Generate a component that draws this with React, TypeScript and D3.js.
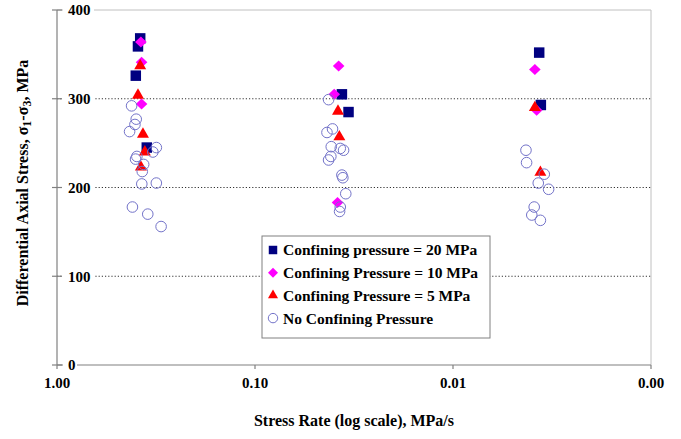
import React from "react";
import * as d3 from "d3";

// ---- data ----
const seriesNames = [
  "Confining pressure = 20 MPa",
  "Confining Pressure = 10 MPa",
  "Confining Pressure = 5 MPa",
  "No Confining Pressure",
];

// [stress rate MPa/s, differential stress MPa]
const cp20: [number, number][] = [
  [0.38, 368], [0.39, 359], [0.4, 326], [0.352, 245],
  [0.0364, 305], [0.0337, 285],
  [0.00367, 352], [0.0036, 293],
];
const cp10: [number, number][] = [
  [0.377, 364], [0.374, 341], [0.374, 294],
  [0.0378, 337], [0.0398, 305], [0.0383, 183],
  [0.00386, 333], [0.00378, 287],
];
const cp5: [number, number][] = [
  [0.38, 337], [0.39, 304], [0.368, 260], [0.36, 240], [0.377, 223],
  [0.0381, 286], [0.0375, 257],
  [0.00386, 290], [0.00362, 217],
];
const cp0: [number, number][] = [
  [0.42, 292], [0.398, 277], [0.404, 271], [0.43, 263], [0.315, 245], [0.328, 240],
  [0.395, 235], [0.401, 232], [0.365, 226], [0.371, 218], [0.373, 204], [0.315, 205],
  [0.416, 178], [0.348, 170], [0.298, 156],
  [0.0425, 299], [0.0406, 266], [0.0433, 262], [0.0412, 246], [0.0357, 242], [0.0371, 244],
  [0.0414, 235], [0.0425, 231], [0.0364, 214], [0.036, 211], [0.0348, 193], [0.0371, 178],
  [0.0374, 173],
  [0.00428, 242], [0.00425, 228], [0.00346, 215], [0.00371, 205], [0.00329, 198],
  [0.00389, 178], [0.004, 169], [0.00362, 163],
];

const yTicks = [0, 100, 200, 300, 400];
const xTicks = [1, 0.1, 0.01, 0.001];
const xTickLabels = ["1.00", "0.10", "0.01", "0.00"];

const W = 681;
const H = 439;
const left = 57;
const right = 651;
const top = 10;
const bottom = 365;

const x = d3.scaleLog().domain([1, 0.001]).range([left, right]);
const y = d3.scaleLinear().domain([0, 400]).range([bottom, top]);

const FONT = "'Liberation Serif', 'Times New Roman', serif";

const squarePath = d3.symbol().type(d3.symbolSquare).size(110)() as string;
const trianglePath = d3.symbol().type(d3.symbolTriangle).size(62)() as string;
const diamondPath = "M0,-5.5L5.8,0L0,5.5L-5.8,0Z";
const squareSmall = d3.symbol().type(d3.symbolSquare).size(72)() as string;
const triangleSmall = d3.symbol().type(d3.symbolTriangle).size(44)() as string;
const diamondSmall = "M0,-5L5,0L0,5L-5,0Z";

function Marker({ kind, small }: { kind: number; small?: boolean }) {
  if (kind === 0) return <path d={small ? squareSmall : squarePath} fill="#000080" />;
  if (kind === 1) return <path d={small ? diamondSmall : diamondPath} fill="#ff00ff" />;
  if (kind === 2) return <path d={small ? triangleSmall : trianglePath} fill="#ff0000" />;
  return <circle r={small ? 4.7 : 5.3} fill="none" stroke="#7373c9" strokeWidth={1} />;
}

export default function App() {
  const all = [cp20, cp10, cp5, cp0];
  const legendX = 262;
  const legendY = 236;
  return (
    <svg width={W} height={H} style={{ position: "absolute", left: 0, top: 0 }} fontFamily={FONT}>
      <rect width={W} height={H} fill="#fff" />
      {/* plot border (top & right) */}
      <line x1={left} x2={right} y1={top} y2={top} stroke="#c0c0c0" strokeWidth={1} />
      <line x1={right} x2={right} y1={top} y2={bottom} stroke="#c0c0c0" strokeWidth={1} />
      {/* gridlines */}
      {yTicks.filter((t) => t > 0 && t < 400).map((t) => (
        <line key={t} x1={left} x2={right} y1={y(t)} y2={y(t)} stroke="#333" strokeWidth={1} strokeDasharray="1.2,2" />
      ))}
      {/* axes */}
      <line x1={left} x2={left} y1={top} y2={bottom} stroke="#808080" strokeWidth={1.2} />
      <line x1={left} x2={right} y1={bottom} y2={bottom} stroke="#808080" strokeWidth={1.2} />
      {yTicks.map((t) => (
        <g key={t}>
          <line x1={left - 5} x2={left + 5} y1={y(t)} y2={y(t)} stroke="#808080" strokeWidth={1.2} />
          <rect x={left + 6} y={y(t) - 7} width={t === 0 ? 14 : 31} height={14} fill="#fff" />
          <text x={left + 11} y={y(t)} dy="0.35em" fontSize={15} fontWeight="bold" fill="#000">{t}</text>
        </g>
      ))}
      {xTicks.map((t, i) => (
        <g key={t}>
          <line x1={x(t)} x2={x(t)} y1={bottom} y2={bottom + 4} stroke="#808080" strokeWidth={1.2} />
          <text x={x(t)} y={383} dy="0.35em" textAnchor="middle" fontSize={15} fontWeight="bold" fill="#000">{xTickLabels[i]}</text>
        </g>
      ))}
      {/* axis titles */}
      <text x={354} y={420} dy="0.35em" textAnchor="middle" fontSize={16} fontWeight="bold" fill="#000">Stress Rate (log scale), MPa/s</text>
      <text transform={`translate(22,${183}) rotate(-90)`} textAnchor="middle" dy="0.35em" fontSize={16} fontWeight="bold" fill="#000">
        Differential Axial Stress, σ<tspan fontSize={12} dy="3">1</tspan><tspan dy="-3">-σ</tspan><tspan fontSize={12} dy="3">3</tspan><tspan dy="-3">, MPa</tspan>
      </text>
      {/* points */}
      {all.map((series, si) => (
        <g key={si}>
          {series.map(([rx, ry], i) => (
            <g key={i} transform={`translate(${x(rx)},${y(ry)})`}>
              <Marker kind={si} />
            </g>
          ))}
        </g>
      ))}
      {/* legend */}
      <rect x={legendX} y={legendY} width={228} height={102} fill="#fff" stroke="#808080" strokeWidth={1} />
      {seriesNames.map((name, i) => (
        <g key={name} transform={`translate(${legendX}, ${legendY + 14 + i * 22.7})`}>
          <g transform="translate(11,0)"><Marker kind={i} small /></g>
          <text x={21} y={0} dy="0.35em" fontSize={15.5} fontWeight="bold" fill="#000">{name}</text>
        </g>
      ))}
    </svg>
  );
}
